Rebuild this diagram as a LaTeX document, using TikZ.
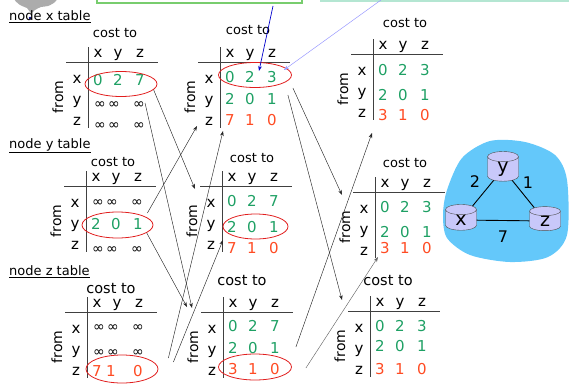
\documentclass[tikz,border=0pt]{standalone}
\usepackage{fontspec}
\setmainfont{DejaVu Sans}
\usetikzlibrary{arrows.meta,calc,shapes.geometric}

\definecolor{valgreen}{RGB}{30,160,100}
\definecolor{valred}{RGB}{255,75,35}
\definecolor{ringred}{RGB}{225,30,30}
\definecolor{cloudblue}{RGB}{100,200,250}
\definecolor{routerfill}{RGB}{200,200,250}
\definecolor{boxgreen}{RGB}{120,205,110}
\definecolor{barmint}{RGB}{180,230,210}

\tikzset{
  lbl/.style={inner sep=0pt,text height=10pt,text depth=0pt,font=\fontsize{15}{17}\selectfont},
  cst/.style={lbl,font=\fontsize{13}{15}\selectfont},
  head/.style={inner sep=0pt,anchor=west,font=\fontsize{13}{15}\selectfont},
  gv/.style={lbl,text=valgreen},
  rv/.style={lbl,text=valred},
  iv/.style={lbl,font=\fontsize{14}{16}\selectfont},
  rule/.style={line width=0.6pt,black!75},
  ring/.style={ellipse,draw=ringred,line width=0.8pt,inner sep=0pt},
  msg/.style={-{Stealth[length=5pt,width=3.6pt]},line width=0.45pt,black!85},
  router/.style={cylinder,shape border rotate=90,aspect=0.9,draw=black!70,fill=routerfill,
    minimum width=31pt,minimum height=21pt,inner sep=0pt,font=\fontsize{19}{21}\selectfont},
  wt/.style={inner sep=0pt,font=\fontsize{16}{18}\selectfont}
}

% frame of a distance table: cost to, headers, rules, row labels, from
\newcommand{\dvframe}[3][]{%
  \node[cst,#1] (#2-cost) at (#3) {cost to};
  \node[lbl] (#2-hx) at (10,-10) {x};
  \node[lbl] (#2-hy) at (30,-10) {y};
  \node[lbl] (#2-hz) at (52,-10) {z};
  \draw[rule] (-22,0) -- (70,0);
  \draw[rule] (0,-15) -- (0,66);
  \node[lbl] (#2-rx) at (-11,16) {x};
  \node[lbl] (#2-ry) at (-11,37) {y};
  \node[lbl] (#2-rz) at (-11,58) {z};
  \node[lbl,font=\fontsize{14}{16}\selectfont,rotate=90] (#2-from) at (-30,35) {from};
}
% one row of known costs
\newcommand{\dvrow}[6]{%
  \node[#3] (#1a) at (10,#2) {#4};
  \node[#3] (#1b) at (30,#2) {#5};
  \node[#3] (#1c) at (52,#2) {#6};
}
% one row of unknown costs
\newcommand{\dvinf}[2]{%
  \node[iv] (#1a) at (12,#2) {∞};
  \node[iv] (#1b) at (26,#2) {∞};
  \node[iv] (#1c) at (51,#2) {∞};
}

\begin{document}
\begin{tikzpicture}[x=1pt,y=-1pt,>=Stealth]
  \useasboundingbox (0,0) rectangle (569,388);

  % cut-off pieces along the top edge
  \draw[boxgreen,line width=1.2pt,fill=white] (97,-6) rectangle (302,3);
  \fill[barmint] (320,-3) rectangle (569,1.5);
  \fill[gray!65] plot[smooth cycle] coordinates {(16,-2) (20,5) (27,8) (31,13) (35,10) (41,7) (48,6) (55,2) (54,-2)};
  \fill[blue!50!black] (30,18) circle (1.3pt);

  % headings
  \node[head] (hx) at (9,17) {\underline{node x table}};
  \node[head] (hy) at (9,146) {\underline{node y table}};
  \node[head] (hz) at (9,272) {\underline{node z table}};

  % first column
  \begin{scope}[shift={(88,62)}]
    \dvframe{t1x}{27,-30}
    \dvrow{t1x-x}{18}{gv}{0}{2}{7}
    \dvinf{t1x-y}{41}
    \dvinf{t1x-z}{62}
  \end{scope}
  \begin{scope}[shift={(86,186)}]
    \dvframe{t1y}{27,-25}
    \dvinf{t1y-x}{15}
    \dvrow{t1y-y}{38}{gv}{2}{0}{1}
    \dvinf{t1y-z}{62}
  \end{scope}
  \begin{scope}[shift={(87,312)}]
    \dvframe[font=\fontsize{14.5}{17}\selectfont]{t1z}{24,-24}
    \dvinf{t1z-x}{14}
    \dvinf{t1z-y}{39}
    \node[rv] (t1z-za) at (10,59) {7};
    \node[rv] (t1z-zb) at (24,59) {1};
    \node[rv] (t1z-zc) at (51,59) {0};
  \end{scope}

  % second column
  \begin{scope}[shift={(220,62)}]
    \dvframe{t2x}{28,-33}
    \dvrow{t2x-x}{15}{gv}{0}{2}{3}
    \dvrow{t2x-y}{37}{gv}{2}{0}{1}
    \dvrow{t2x-z}{58}{rv}{7}{1}{0}
  \end{scope}
  \begin{scope}[shift={(222,186)}]
    \dvframe{t2y}{30,-29}
    \dvrow{t2y-x}{15}{gv}{0}{2}{7}
    \dvrow{t2y-y}{41}{gv}{2}{0}{1}
    \dvrow{t2y-z}{62}{rv}{7}{1}{0}
  \end{scope}
  \begin{scope}[shift={(223,312)}]
    \dvframe[font=\fontsize{14.5}{17}\selectfont]{t2z}{19,-32}
    \dvrow{t2z-x}{14}{gv}{0}{2}{7}
    \dvrow{t2z-y}{36}{gv}{2}{0}{1}
    \dvrow{t2z-z}{57}{rv}{3}{1}{0}
  \end{scope}

  % third column
  \begin{scope}[shift={(373,54)}]
    \dvframe{t3x}{32,-32}
    \dvrow{t3x-x}{16}{gv}{0}{2}{3}
    \dvrow{t3x-y}{41}{gv}{2}{0}{1}
    \dvrow{t3x-z}{61}{rv}{3}{1}{0}
  \end{scope}
  \begin{scope}[shift={(375,192)}]
    \dvframe{t3y}{30,-30}
    \dvrow{t3y-x}{15}{gv}{0}{2}{3}
    \dvrow{t3y-y}{40}{gv}{2}{0}{1}
    \dvrow{t3y-z}{56}{rv}{3}{1}{0}
  \end{scope}
  \begin{scope}[shift={(370,311)}]
    \dvframe[font=\fontsize{14.5}{17}\selectfont]{t3z}{18,-31}
    \dvrow{t3z-x}{15}{gv}{0}{2}{3}
    \dvrow{t3z-y}{35}{gv}{2}{0}{1}
    \dvrow{t3z-z}{58}{rv}{3}{1}{0}
  \end{scope}

  % circled rows that get sent
  \node[ring,minimum width=72pt,minimum height=25pt] (e1x) at (121,84) {};
  \node[ring,minimum width=71pt,minimum height=26pt] (e1y) at (117.5,225) {};
  \node[ring,minimum width=72pt,minimum height=28pt] (e1z) at (122,369) {};
  \node[ring,minimum width=73pt,minimum height=25pt] (e2x) at (255,75) {};
  \node[ring,minimum width=65pt,minimum height=25pt] (e2y) at (255.5,226.5) {};
  \node[ring,minimum width=73pt,minimum height=26pt] (e2z) at (255,367) {};

  % where the messages arrive
  \coordinate (in-t2y-a) at (195,189);
  \coordinate (in-t2z-a) at (192,308);
  \coordinate (in-t2x-a) at (197,126);
  \coordinate (in-t2z-b) at (187,307);
  \coordinate (in-t2x-b) at (223,131);
  \coordinate (in-t2y-b) at (223,240);
  \coordinate (in-t3y-a) at (342,195);
  \coordinate (in-t3z-a) at (342,300);
  \coordinate (in-t3x-a) at (372,133);
  \coordinate (in-t3y-b) at (378,257);

  \draw[msg] (e1x.-10) -- (in-t2y-a);
  \draw[msg] (t1x-yc.east) -- (in-t2z-a);
  \draw[msg] ($(e1y.east)+(-6,-12)$) -- (in-t2x-a);
  \draw[msg] (e1y.-15) -- (in-t2z-b);
  \draw[msg] ($(e1z.east)+(10,-11)$) -- (in-t2x-b);
  \draw[msg] ($(e1z.east)+(15,-7)$) -- (in-t2y-b);

  \draw[msg] ($(e2x.east)+(1,13)$) -- (in-t3y-a);
  \draw[msg] ($(e2x.east)+(-4,20)$) -- (in-t3z-a);
  \draw[msg] ($(e2z.east)+(4,-20)$) -- (in-t3x-a);
  \draw[msg,black!60] ($(e2z.east)+(14,1)$) -- (in-t3y-b);

  % pointers from the boxes above
  \coordinate (src-a) at (273,6);
  \coordinate (src-b) at (381,0);
  \draw[msg,blue!80!black,line width=0.7pt] (src-a) -- ($(e2x.center)+(4,-4)$);
  \draw[msg,blue!40,line width=0.5pt] (src-b) -- ($(e2x.east)+(-8,-5)$);

  % the network
  \fill[cloudblue] plot[smooth cycle] coordinates {(447,190) (462,158) (490,141) (525,142) (555,155) (567,180) (567,235) (548,257) (510,262) (470,255) (447,238) (443,215)};
  \node[router] (ry) at (503,169) {y};
  \node[router] (rx) at (461,220) {x};
  \node[router] (rz) at (545,221) {z};
  \draw[line width=0.9pt] (ry) -- (rx);
  \draw[line width=0.9pt] (ry) -- (rz);
  \draw[line width=0.9pt] (rx) -- (rz);
  \node[wt] (w-xy) at (475,182) {2};
  \node[wt] (w-yz) at (528,183) {1};
  \node[wt] (w-xz) at (503,237) {7};
\end{tikzpicture}
\end{document}
